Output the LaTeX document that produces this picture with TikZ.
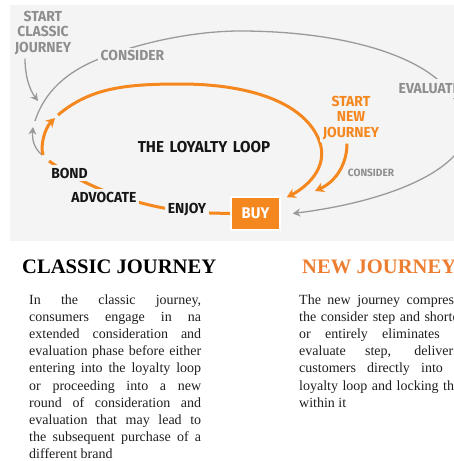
\documentclass[tikz,border=0pt]{standalone}
\usepackage{fontspec}
\setmainfont{Liberation Serif}
\newfontfamily\labelfont[FakeStretch=0.96]{Fira Sans}
\usetikzlibrary{arrows.meta,calc,backgrounds}

\definecolor{panel}{HTML}{F4F4F4}
\definecolor{loyal}{HTML}{F5871F}
\definecolor{greytext}{HTML}{8E8E8E}
\definecolor{greyline}{HTML}{9A9A9A}
\definecolor{labelink}{HTML}{161616}
\definecolor{newhead}{HTML}{ED7D31}
\definecolor{bodyink}{HTML}{1E1E1E}

\newcommand{\loosepar}{\tolerance=10000\relax\hbadness=10000\relax\hyphenpenalty=10000\relax}

\tikzset{
  x=1pt, y=-1pt,
  steplabel/.style={font=\labelfont\bfseries\fontsize{14.5}{15.5}\selectfont,
    fill=panel, inner sep=2.5pt, align=center},
  greylabel/.style={steplabel, text=greytext},
  blacklabel/.style={steplabel, text=labelink},
  orangelabel/.style={steplabel, text=loyal},
  loopline/.style={draw=loyal, line width=3pt},
  looparrow/.style={loopline, -{Stealth[length=9pt,width=10pt]}},
  greypath/.style={draw=greyline, line width=1.3pt},
  greyarrow/.style={greypath, -{Stealth[length=7.5pt,width=8pt]}},
  heading/.style={font=\bfseries\fontsize{20.6}{24}\selectfont, inner sep=0pt},
  bodytext/.style={text width=172pt, align=justify, inner sep=0pt, text=bodyink,
    font=\fontsize{14}{17.1}\selectfont}
}

\begin{document}
\begin{tikzpicture}
\useasboundingbox (0,0) rectangle (454,461);
\clip (0,0) rectangle (454,461);

% labels of the journey diagram
\node[greylabel] (scj) at (43,33) {START\\CLASSIC\\JOURNEY};
\node[greylabel] (cons1) at (132.5,55.5) {CONSIDER};
\node[greylabel, anchor=west, inner ysep=4pt] (evaluate) at (396,88.5) {EVALUATE};
\node[blacklabel, font=\labelfont\bfseries\fontsize{15.8}{17}\selectfont] (loop) at (204,147.5)
      {THE\hspace{2pt} LOYALTY\hspace{2pt} LOOP};
\node[blacklabel] (bond) at (69.5,173) {BOND};
\node[blacklabel] (advocate) at (104,197) {ADVOCATE};
\node[blacklabel] (enjoy) at (187,210) {ENJOY};
\node[orangelabel] (snj) at (351,118) {START\\NEW\\JOURNEY};
\node[greylabel, font=\labelfont\bfseries\fontsize{10.5}{12}\selectfont] (cons2) at (371,172.5) {CONSIDER};
\node[draw=white, line width=1.5pt, fill=loyal, minimum width=49pt, minimum height=33pt,
      inner sep=0pt, text=white, font=\labelfont\bfseries\fontsize{15.5}{16}\selectfont]
      (buy) at (255.5,213.5) {BUY};

% points along the loops
\coordinate (bondend) at (49,161);
\coordinate (bondfork) at (43,155);
\coordinate (looptip) at (55,118);
\coordinate (loopstart) at (58,115);
\coordinate (buytip) at ($(buy.north east)+(6,1)$);
\coordinate (newtip) at (315,191);
\coordinate (greyfork) at (42,155);
\coordinate (greytip) at (33,127);
\coordinate (greystart) at (35,121);
\coordinate (greyend) at ($(buy.east)+(12,0)$);
\coordinate (classictip) at (38,101);

\begin{scope}[on background layer]
  \fill[panel] (10,5) rectangle (460,241);

  % classic journey: consider / evaluate round
  \draw[greyarrow] ($(scj.south)+(-18,1)$) .. controls (25,75) and (29,89) .. (classictip);
  \draw[greyarrow] (greyfork) .. controls (34,148) and (32,140) .. (greytip);
  \draw[greyarrow] (greystart) .. controls (45,90) and (70,68) .. (110,55)
        .. controls (150,40) and (200,31) .. (240,31)
        .. controls (340,31) and (430,55) .. (455,100)
        .. controls (462,112) and (466,120) .. (466,130)
        .. controls (466,165) and (400,200) .. (greyend);

  % the loyalty loop
  \draw[loopline] (buy.west) -- (210,213) .. controls (175,212) and (145,205) .. (118,196)
        .. controls (95,188) and (70,176) .. (bondend);
  \draw[looparrow] (bondfork) .. controls (40,145) and (45,128) .. (looptip);
  \draw[looparrow] (loopstart) .. controls (90,88) and (125,84) .. (180,84)
        .. controls (255,84) and (305,105) .. (319,140)
        .. controls (330,168) and (305,188) .. (buytip);

  % new journey
  \draw[looparrow] ($(snj.south)+(-4,1)$) .. controls (347,165) and (335,182) .. (newtip);
\end{scope}

% text below the diagram
\node[heading, anchor=base west, text=black] (headA) at (22,273) {CLASSIC JOURNEY};
\node[heading, anchor=base west, text=newhead] (headB) at (302,273) {NEW JOURNEY};

\node[bodytext, anchor=base west] (bodyA) at (29,304.5) {\loosepar In the classic journey,\linebreak
consumers engage in na\linebreak
extended consideration and\linebreak
evaluation phase before either\linebreak
entering into the loyalty loop\linebreak
or proceeding into a new\linebreak
round of consideration and\linebreak
evaluation that may lead to\linebreak
the subsequent purchase of a\linebreak
different brand};

\node[bodytext, anchor=base west] (bodyB) at (299,304.5) {\loosepar The new journey compresses\linebreak
the consider step and shortens\linebreak
or entirely eliminates the\linebreak
evaluate step, delivering\linebreak
customers directly into the\linebreak
loyalty loop and locking them\linebreak
within it};
\end{tikzpicture}
\end{document}
